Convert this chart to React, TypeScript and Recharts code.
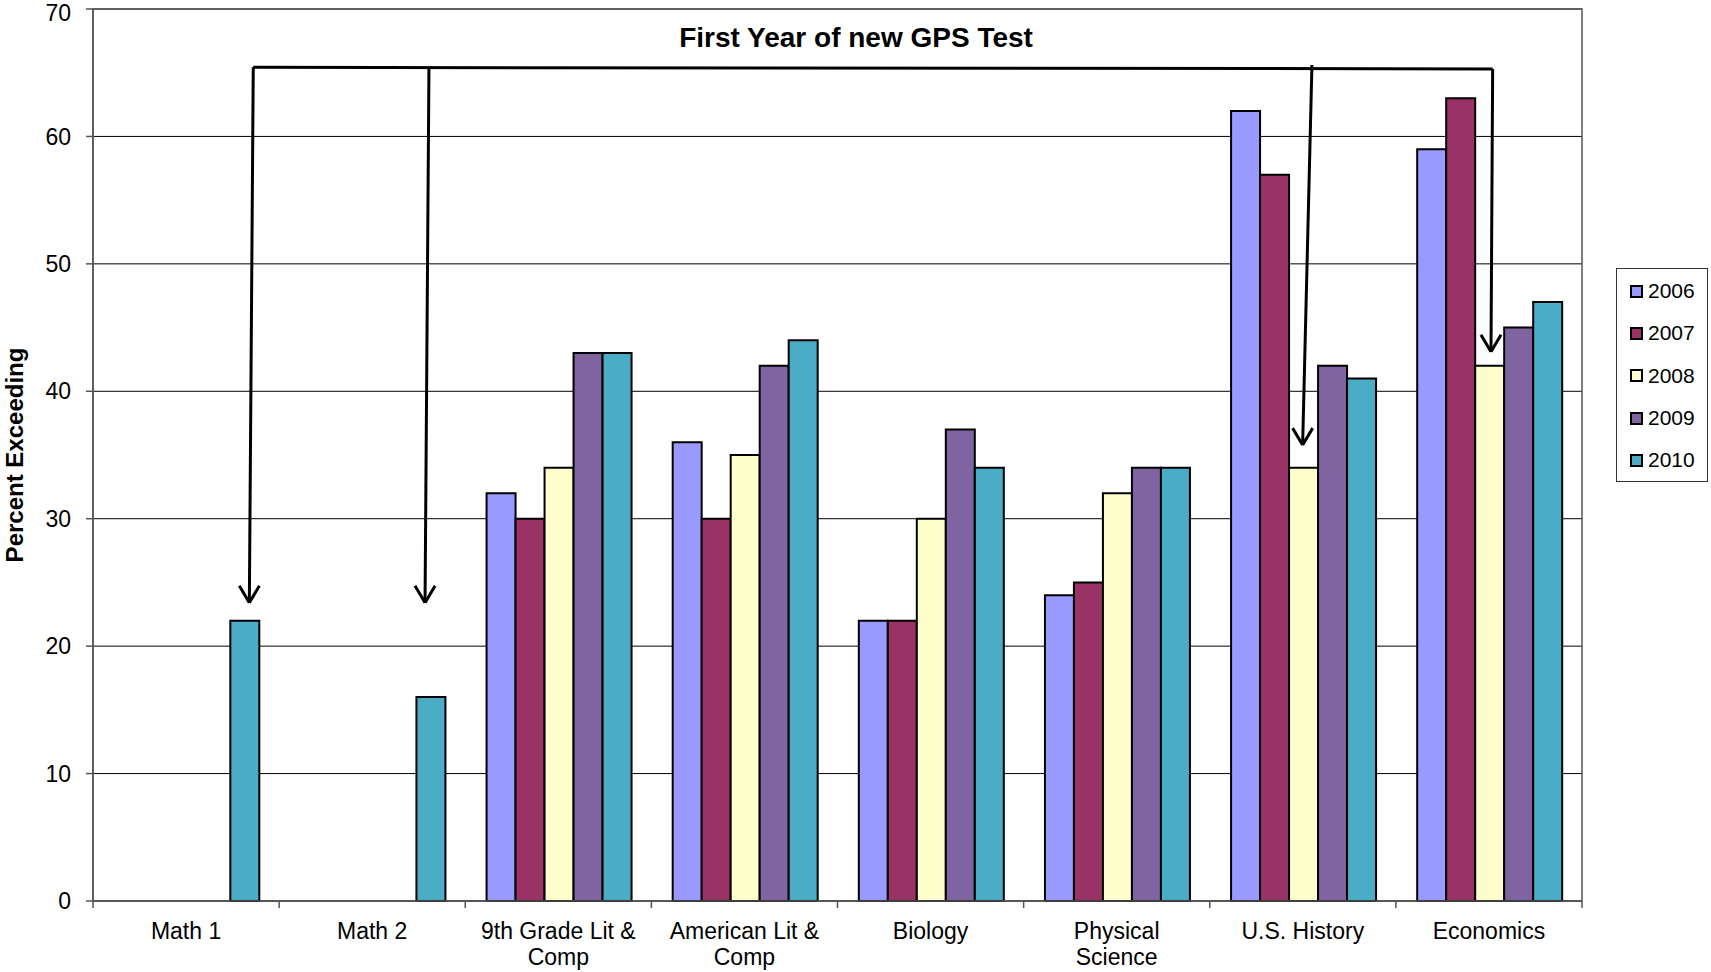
import { BarChart, Bar, XAxis, YAxis, CartesianGrid, ReferenceLine, ReferenceArea } from "recharts";

const categories = [
  "Math 1",
  "Math 2",
  "9th Grade Lit &\nComp",
  "American Lit &\nComp",
  "Biology",
  "Physical\nScience",
  "U.S. History",
  "Economics",
];
const years = ["2006", "2007", "2008", "2009", "2010"];
const v2006 = [null, null, 32, 36, 22, 24, 62, 59];
const v2007 = [null, null, 30, 30, 22, 25, 57, 63];
const v2008 = [null, null, 34, 35, 30, 32, 34, 42];
const v2009 = [null, null, 43, 42, 37, 34, 42, 45];
const v2010 = [22, 16, 43, 44, 34, 34, 41, 47];
const yTicks = [0, 10, 20, 30, 40, 50, 60, 70];

const colors = ["#9999FF", "#993366", "#FFFFCC", "#8064A2", "#4BACC6"];

// arrow annotations, x in category-band units (0 = left edge, 8 = right edge), y in percent
const arrows = [
  { top: [0.861, 65.42], tip: [0.84, 23.41] },
  { top: [1.805, 65.4], tip: [1.784, 23.41] },
  { top: [6.549, 65.6], tip: [6.499, 35.78] },
  { top: [7.52, 65.3], tip: [7.511, 43.1] },
];
const headDx = 0.054;
const headDy = 1.33;

const series = [v2006, v2007, v2008, v2009, v2010];
const data = categories.map((name, i) => {
  const row: Record<string, string | number | null> = { name };
  years.forEach((y, k) => (row[y] = series[k][i]));
  return row;
});

// the helper x axis spans the row indices 0..n-1 across the whole plot width
const n = categories.length;
const toAnn = (u: number) => (u * (n - 1)) / n;
const bandTicks = categories.map((_, i) => toAnn(i)).concat(toAnn(n));

const FONT = "'Liberation Sans', Arial, sans-serif";

const NoLabel = () => <g />;

const CategoryTick = ({ x, y, payload }: any) => {
  const lines = String(payload.value).split("\n");
  return (
    <text x={x} y={y} textAnchor="middle" fontSize={23} fill="#000" fontFamily={FONT}>
      {lines.map((l, i) => (
        <tspan key={i} x={x} dy={i === 0 ? 37 : 26}>
          {l}
        </tspan>
      ))}
    </text>
  );
};

const YLabel = ({ viewBox }: any) => {
  const cy = viewBox.y + viewBox.height / 2;
  return (
    <text
      x={23}
      y={cy}
      transform={`rotate(-90, 23, ${cy})`}
      textAnchor="middle"
      fontSize={24}
      fontWeight="bold"
      fill="#000"
      fontFamily={FONT}
    >
      Percent Exceeding
    </text>
  );
};

export default function App() {
  const seg = (a: number[], b: number[]) => [
    { x: toAnn(a[0]), y: a[1] },
    { x: toAnn(b[0]), y: b[1] },
  ];
  return (
    <div style={{ position: "absolute", left: 0, top: 0, width: 1711, height: 972, background: "#fff", fontFamily: FONT }}>
      <BarChart
        width={1711}
        height={972}
        data={data}
        margin={{ top: 9, right: 129, bottom: 0, left: 0 }}
        barCategoryGap="11.45%"
        barGap={0}
        style={{ fontFamily: FONT }}
      >
        <CartesianGrid xAxisId="cat" vertical={false} stroke="#000" strokeWidth={1} />
        <XAxis
          xAxisId="a"
          type="number"
          domain={[0, n - 1]}
          ticks={bandTicks}
          interval={0}
          tick={<NoLabel />}
          tickLine={{ stroke: "#555", strokeWidth: 1.5 }}
          height={1}
          tickSize={7}
          stroke="#555"
          strokeWidth={1.5}
        />
        <XAxis
          xAxisId="cat"
          dataKey="name"
          height={70}
          axisLine={false}
          tickLine={false}
          tickSize={0}
          tickMargin={0}
          interval={0}
          tick={<CategoryTick />}
        />
        <YAxis
          domain={[0, 70]}
          ticks={yTicks}
          width={93}
          tickSize={7}
          tickMargin={15}
          stroke="#555"
          strokeWidth={1.5}
          tick={{ fontSize: 23, fill: "#000", fontFamily: FONT }}
          label={{ content: <YLabel /> }}
        />
        {years.map((y, k) => (
          <Bar key={y} xAxisId="cat" dataKey={y} fill={colors[k]} stroke="#000" strokeWidth={2} isAnimationActive={false} />
        ))}
        <ReferenceArea xAxisId="a" x1={toAnn(0)} x2={toAnn(n)} y1={0} y2={70} fill="none" stroke="#555" strokeWidth={1.5} ifOverflow="visible" />
        <ReferenceLine
          xAxisId="a"
          segment={seg(arrows[0].top, arrows[3].top)}
          stroke="#000"
          strokeWidth={3}
          ifOverflow="visible"
        />
        {arrows.map((a, i) => (
          <ReferenceLine key={`v${i}`} xAxisId="a" segment={seg(a.top, a.tip)} stroke="#000" strokeWidth={3} ifOverflow="visible" />
        ))}
        {arrows.map((a, i) => (
          <ReferenceLine
            key={`l${i}`}
            xAxisId="a"
            segment={seg([a.tip[0] - headDx, a.tip[1] + headDy], a.tip)}
            stroke="#000"
            strokeWidth={3}
            ifOverflow="visible"
          />
        ))}
        {arrows.map((a, i) => (
          <ReferenceLine
            key={`r${i}`}
            xAxisId="a"
            segment={seg([a.tip[0] + headDx, a.tip[1] + headDy], a.tip)}
            stroke="#000"
            strokeWidth={3}
            ifOverflow="visible"
          />
        ))}
      </BarChart>
      <div
        style={{
          position: "absolute",
          left: 856,
          top: 20,
          transform: "translateX(-50%)",
          fontSize: 28,
          fontWeight: "bold",
          whiteSpace: "nowrap",
          color: "#000",
          lineHeight: "36px",
        }}
      >
        First Year of new GPS Test
      </div>
      <div
        style={{
          position: "absolute",
          left: 1616,
          top: 268,
          width: 92,
          height: 214,
          border: "1px solid #333",
          boxSizing: "border-box",
          paddingTop: 1,
        }}
      >
        {years.map((y, k) => (
          <div key={y} style={{ display: "flex", alignItems: "center", height: 42.3, paddingLeft: 13 }}>
            <span
              style={{
                display: "inline-block",
                width: 13,
                height: 13,
                boxSizing: "border-box",
                border: "2px solid #000",
                background: colors[k],
                marginRight: 5,
              }}
            />
            <span style={{ fontSize: 21, color: "#000" }}>{y}</span>
          </div>
        ))}
      </div>
    </div>
  );
}
